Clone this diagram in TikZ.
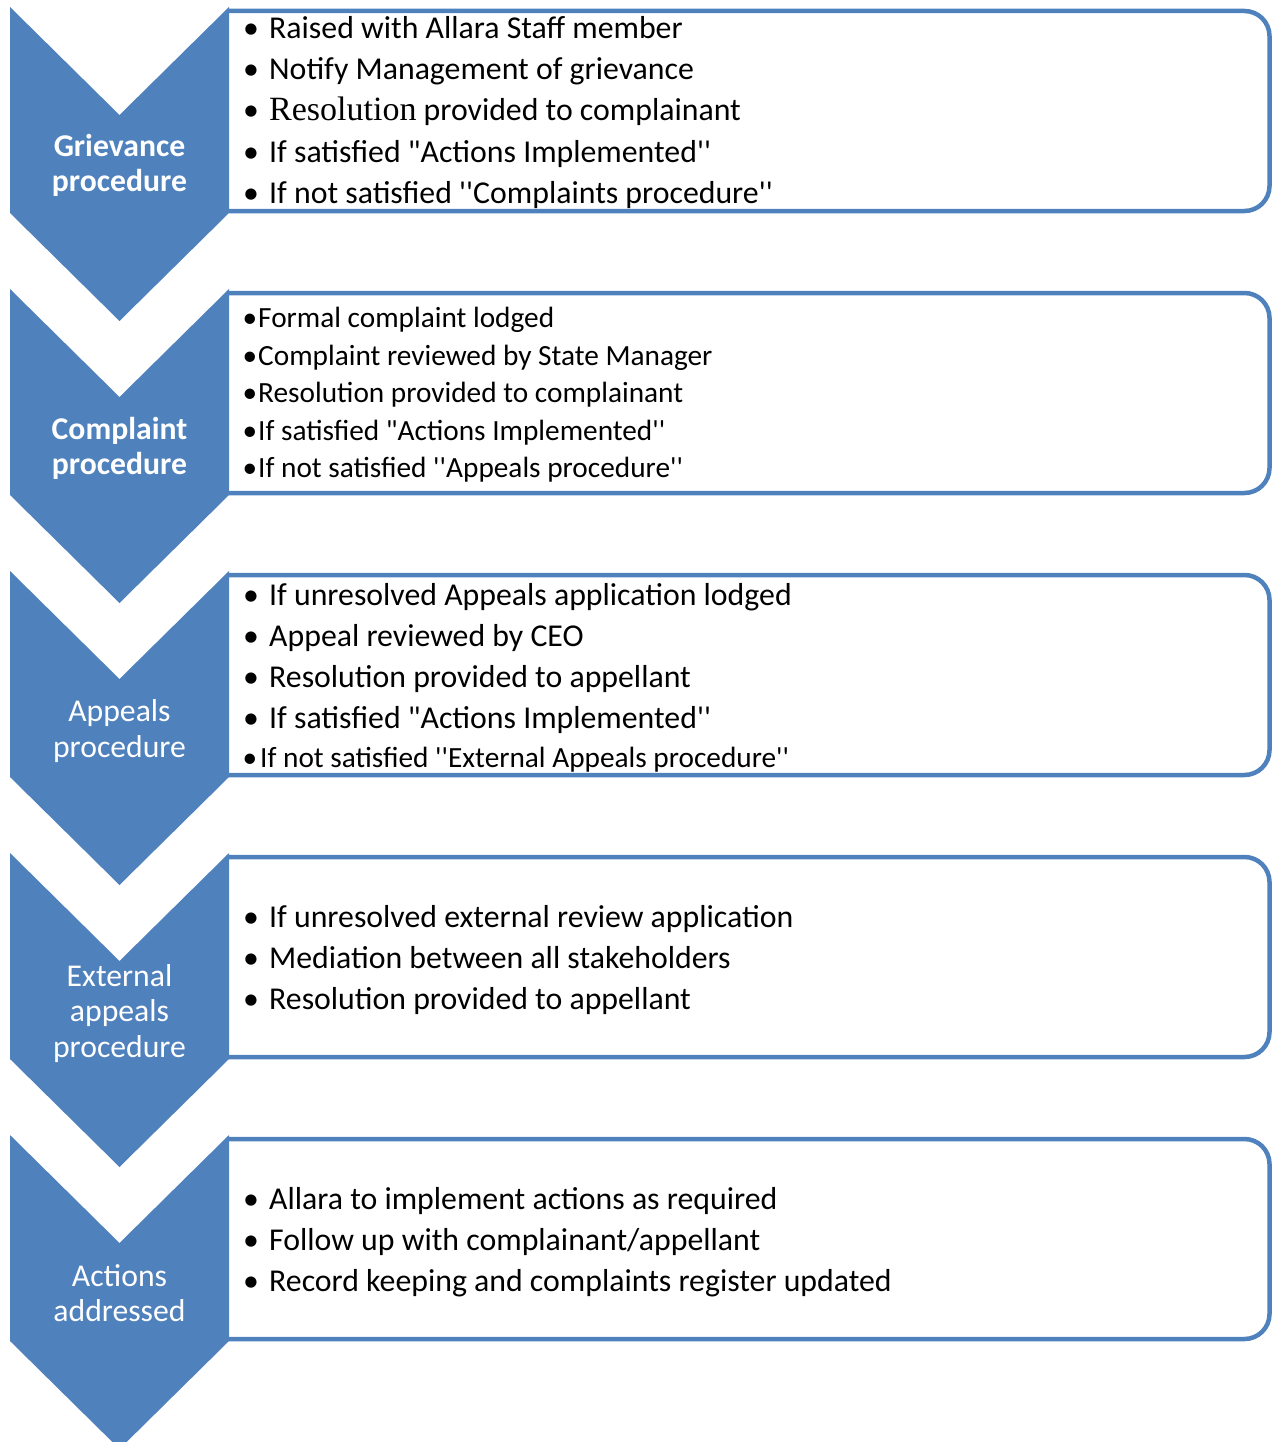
\documentclass[tikz,border=0pt]{standalone}
\usepackage{fontspec}
\newfontfamily\calibri{Carlito}
\newfontfamily\cambria{Liberation Serif}
\definecolor{chevblue}{HTML}{4F81BD}
\tikzset{
  chevron/.style={fill=chevblue, draw=none},
  panel/.style={draw=chevblue, line width=4.5pt, rounded corners=25pt},
  chevlabel/.style={anchor=base, text=white, inner sep=0pt, font=\calibri\fontsize{31.7}{35.5}\selectfont},
  bigbul/.style={anchor=base, inner sep=0pt, font=\calibri\fontsize{31.8}{38}\selectfont},
  bigitem/.style={anchor=base west, inner sep=0pt, font=\calibri\fontsize{31.8}{38}\selectfont},
  smallbul/.style={anchor=base, inner sep=0pt, font=\calibri\fontsize{29.3}{35}\selectfont},
  smallitem/.style={anchor=base west, inner sep=0pt, font=\calibri\fontsize{29.3}{35}\selectfont},
}
\begin{document}
\begin{tikzpicture}[x=1pt,y=-1pt]
\useasboundingbox (0,0) rectangle (1272,1442);
\clip (0,0) rectangle (1272,1442);
% panels
\foreach \k in {0,...,4}{
  \draw[panel] (229,{11+282*\k}) -- (1269.5,{11+282*\k}) -- (1269.5,{211+282*\k}) -- (229,{211+282*\k});
}
% chevrons
\foreach \k in {0,...,4}{
  \fill[chevron] (10,{7+282*\k}) -- (119.5,{115+282*\k}) -- (229,{7+282*\k}) -- (229,{213+282*\k}) -- (119.5,{321+282*\k}) -- (10,{213+282*\k}) -- cycle;
}
% chevron labels
\node[chevlabel] (c1a) at (119.5,157) {\bfseries Grievance};
\node[chevlabel] (c1b) at (119.5,192) {\bfseries procedure};
\node[chevlabel] (c2a) at (119.5,439) {\bfseries Complaint};
\node[chevlabel] (c2b) at (119.5,474) {\bfseries procedure};
\node[chevlabel] (c3a) at (119.5,721) {Appeals};
\node[chevlabel] (c3b) at (119.5,757) {procedure};
\node[chevlabel] (c4a) at (119.5,986) {External};
\node[chevlabel] (c4b) at (119.5,1021) {appeals};
\node[chevlabel] (c4c) at (119.5,1057) {procedure};
\node[chevlabel] (c5a) at (119.5,1286) {Actions};
\node[chevlabel] (c5b) at (119.5,1321) {addressed};
% box 1
\foreach \y [count=\i] in {39,80,121,163,204}{
  \node[bigbul] (b1u\i) at (251,\y) {•};
}
\node[bigitem] (b1t1) at (269,39) {Raised with Allara Staff member};
\node[bigitem] (b1t2) at (269,80) {Notify Management of grievance};
\node[bigitem] (b1t3) at (269,121) {{\cambria\fontsize{34}{38}\selectfont Resolution} provided to complainant};
\node[bigitem] (b1t4) at (269,163) {If satisfied "Actions Implemented''};
\node[bigitem] (b1t5) at (269,204) {If not satisfied ''Complaints procedure''};
% box 2
\foreach \y [count=\i] in {327,365,402,440,477}{
  \node[smallbul] (b2u\i) at (250,\y) {•};
}
\node[smallitem] (b2t1) at (258,327) {Formal complaint lodged};
\node[smallitem] (b2t2) at (258,365) {Complaint reviewed by State Manager};
\node[smallitem] (b2t3) at (258,402) {Resolution provided to complainant};
\node[smallitem] (b2t4) at (258,440) {If satisfied "Actions Implemented''};
\node[smallitem] (b2t5) at (258,477) {If not satisfied ''Appeals procedure''};
% box 3
\foreach \y [count=\i] in {605,646,687,728}{
  \node[bigbul] (b3u\i) at (251,\y) {•};
}
\node[smallbul] (b3u5) at (250,767) {•};
\node[bigitem] (b3t1) at (269,605) {If unresolved Appeals application lodged};
\node[bigitem] (b3t2) at (269,646) {Appeal reviewed by CEO};
\node[bigitem] (b3t3) at (269,687) {Resolution provided to appellant};
\node[bigitem] (b3t4) at (269,728) {If satisfied "Actions Implemented''};
\node[smallitem] (b3t5) at (260,767) {If not satisfied ''External Appeals procedure''};
% box 4
\foreach \y [count=\i] in {927,968,1009}{
  \node[bigbul] (b4u\i) at (251,\y) {•};
}
\node[bigitem] (b4t1) at (269,927) {If unresolved external review application};
\node[bigitem] (b4t2) at (269,968) {Mediation between all stakeholders};
\node[bigitem] (b4t3) at (269,1009) {Resolution provided to appellant};
% box 5
\foreach \y [count=\i] in {1209,1250,1291}{
  \node[bigbul] (b5u\i) at (251,\y) {•};
}
\node[bigitem] (b5t1) at (269,1209) {Allara to implement actions as required};
\node[bigitem] (b5t2) at (269,1250) {Follow up with complainant/appellant};
\node[bigitem] (b5t3) at (269,1291) {Record keeping and complaints register updated};
\end{tikzpicture}
\end{document}
